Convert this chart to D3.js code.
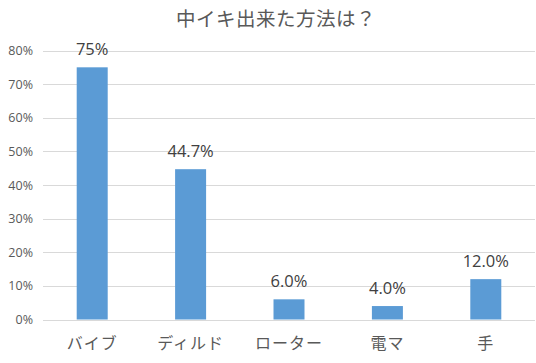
<!DOCTYPE html>
<html lang="ja">
  <head>
    <meta charset="utf-8">
    <style>
      body { margin: 0; background: #fff; }
      text { font-family: "Noto Sans CJK JP", "Noto Sans", sans-serif; fill: #595959; }
      .num { font-family: "Open Sans", "Noto Sans", sans-serif; }
    </style>
  </head>
  <body>
    <div id="viz"></div>
    <script src="https://cdnjs.cloudflare.com/ajax/libs/d3/7.8.5/d3.min.js"></script>
<script type="text/javascript">

var w = 536, h = 363;

var title = "中イキ出来た方法は？";
var categories = ["バイブ", "ディルド", "ローター", "電マ", "手"];
var values = [0.75, 0.447, 0.06, 0.04, 0.12];
var valueLabels = ["75%", "44.7%", "6.0%", "4.0%", "12.0%"];
var yTicks = [0, 0.1, 0.2, 0.3, 0.4, 0.5, 0.6, 0.7, 0.8];

var margin = {top: 50.5, right: 1, bottom: 43.5, left: 43};

var svg = d3.select("#viz")
        .append("svg")
        .attr("width", w)
        .attr("height", h);

var x = d3.scaleBand()
        .domain(categories)
        .range([margin.left, w - margin.right])
        .paddingInner(0.685)
        .paddingOuter(0.3425);

var y = d3.scaleLinear()
        .domain([0, 0.8])
        .range([h - margin.bottom, margin.top]);

// gridlines
svg.append("g")
  .selectAll("line")
  .data(yTicks)
  .enter().append("line")
  .attr("x1", margin.left)
  .attr("x2", w - margin.right)
  .attr("y1", d => Math.round(y(d)) + 0.5)
  .attr("y2", d => Math.round(y(d)) + 0.5)
  .style("stroke", "#d9d9d9")
  .style("stroke-width", 1);

// y tick labels
svg.append("g")
  .selectAll("text")
  .data(yTicks)
  .enter().append("text")
  .attr("class", "num")
  .attr("x", 33)
  .attr("y", d => y(d))
  .attr("text-anchor", "end")
  .attr("dominant-baseline", "central")
  .style("font-size", "12.5px")
  .text(d => d3.format(".0%")(d));

// bars
svg.append("g")
  .selectAll("rect")
  .data(values)
  .enter().append("rect")
  .attr("x", (d, i) => x(categories[i]))
  .attr("width", x.bandwidth())
  .attr("y", d => y(d))
  .attr("height", d => y(0) - y(d))
  .style("fill", "#5b9bd5");

// data labels
svg.append("g")
  .selectAll("text")
  .data(values)
  .enter().append("text")
  .attr("class", "num")
  .attr("x", (d, i) => x(categories[i]) + x.bandwidth() / 2)
  .attr("y", d => y(d) - 19)
  .attr("text-anchor", "middle")
  .attr("dominant-baseline", "central")
  .style("font-size", "16.5px")
  .style("fill", "#404040")
  .text((d, i) => valueLabels[i]);

// category labels
svg.append("g")
  .selectAll("text")
  .data(categories)
  .enter().append("text")
  .attr("x", d => x(d) + x.bandwidth() / 2)
  .attr("y", 342)
  .attr("text-anchor", "middle")
  .attr("dominant-baseline", "central")
  .style("font-size", "16px")
  .style("letter-spacing", "1px")
  .text(d => d);

// title
svg.append("text")
  .attr("x", 276)
  .attr("y", 17)
  .attr("text-anchor", "middle")
  .attr("dominant-baseline", "central")
  .style("font-size", "19.5px")
  .style("letter-spacing", "0.5px")
  .text(title);

</script>
  </body>
</html>
